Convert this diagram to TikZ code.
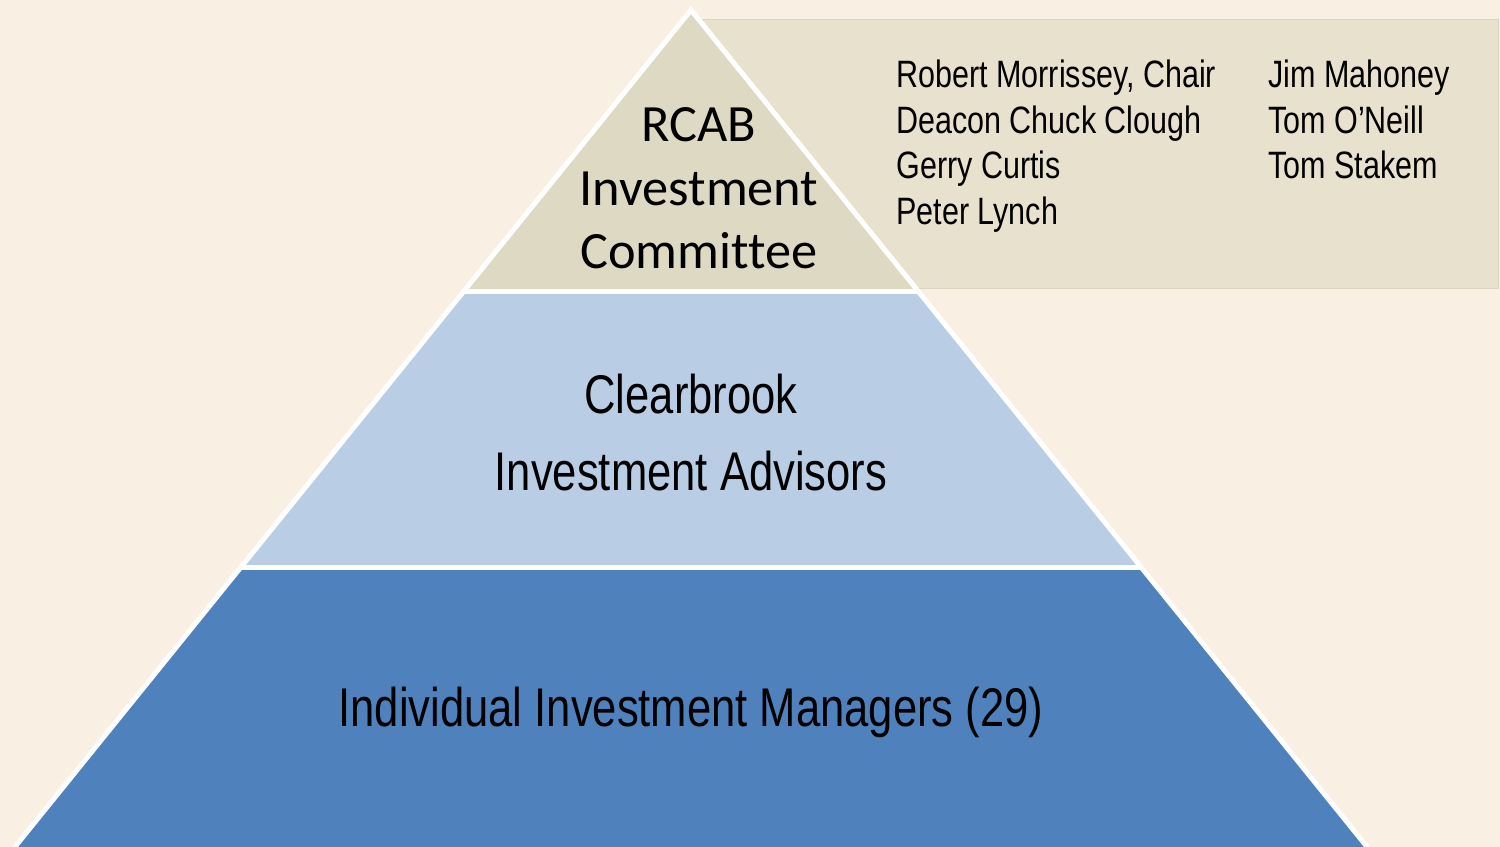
\documentclass[tikz,border=0pt]{standalone}
\usepackage{fontspec}
\setmainfont[Ligatures=NoCommon]{Carlito}
\newfontfamily\narrowfont[FakeStretch=0.8]{Liberation Sans}
\usetikzlibrary{positioning}
\definecolor{slidebg}{HTML}{F9EFE3}
\definecolor{namebox}{HTML}{E8E1CE}
\definecolor{namerule}{HTML}{DCD4C1}
\definecolor{topband}{HTML}{DDD9C3}
\definecolor{midband}{HTML}{B9CDE5}
\definecolor{lowband}{HTML}{4F81BD}
\begin{document}
\begin{tikzpicture}[x=0.02cm, y=-0.02cm,
  member/.style={inner sep=0pt, text height=0.594cm, text depth=0.3cm, font=\narrowfont\fontsize{21.7}{25.4}\selectfont},
  tierline/.style={anchor=base, inner sep=0pt, font=\narrowfont\fontsize{31}{36}\selectfont},
  topline/.style={anchor=base, inner sep=0pt, font=\fontsize{29.8}{35}\selectfont}]
\useasboundingbox (0,0) rectangle (1500,847);
\clip (0,0) rectangle (1500,847);
\fill[slidebg] (0,0) rectangle (1500,847);
% members panel, sits behind the pyramid
\filldraw[fill=namebox, draw=namerule, line width=0.4pt] (700,19) rectangle (1498,288);
% pyramid
\coordinate (apex) at (691,10);
\coordinate (bl) at (-28,900);
\coordinate (br) at (1410,900);
\fill[white] (apex) -- (bl) -- (br) -- cycle;
\begin{scope}
\clip (apex) -- (bl) -- (br) -- cycle;
\fill[topband] (0,0) rectangle (1500,289);
\fill[midband] (0,294) rectangle (1500,565);
\fill[lowband] (0,570) rectangle (1500,900);
\end{scope}
\draw[white, line width=2.85pt] (apex) -- (bl) -- (br) -- cycle;

% tier labels
\node[topline] (rcab) at (699,142) {RCAB};
\node[topline] (rcab2) at (699,206) {Investment};
\node[topline] (rcab3) at (699,269) {Committee};
\node[tierline] (adv) at (691,414) {Clearbrook};
\node[tierline] (adv2) at (691,490) {Investment Advisors};
\node[tierline] (mgr) at (691,726) {Individual Investment Managers (29)};

% committee members
\node[member, anchor=base west] (m1) at (896,88) {Robert Morrissey, Chair};
\node[member, below right] (m2) at (m1.south west) {Deacon Chuck Clough};
\node[member, below right] (m3) at (m2.south west) {Gerry Curtis};
\node[member, below right] (m4) at (m3.south west) {Peter Lynch};
\node[member, anchor=base west] (m5) at (1268,88) {Jim Mahoney};
\node[member, below right] (m6) at (m5.south west) {Tom O’Neill};
\node[member, below right] (m7) at (m6.south west) {Tom Stakem};
\end{tikzpicture}
\end{document}
